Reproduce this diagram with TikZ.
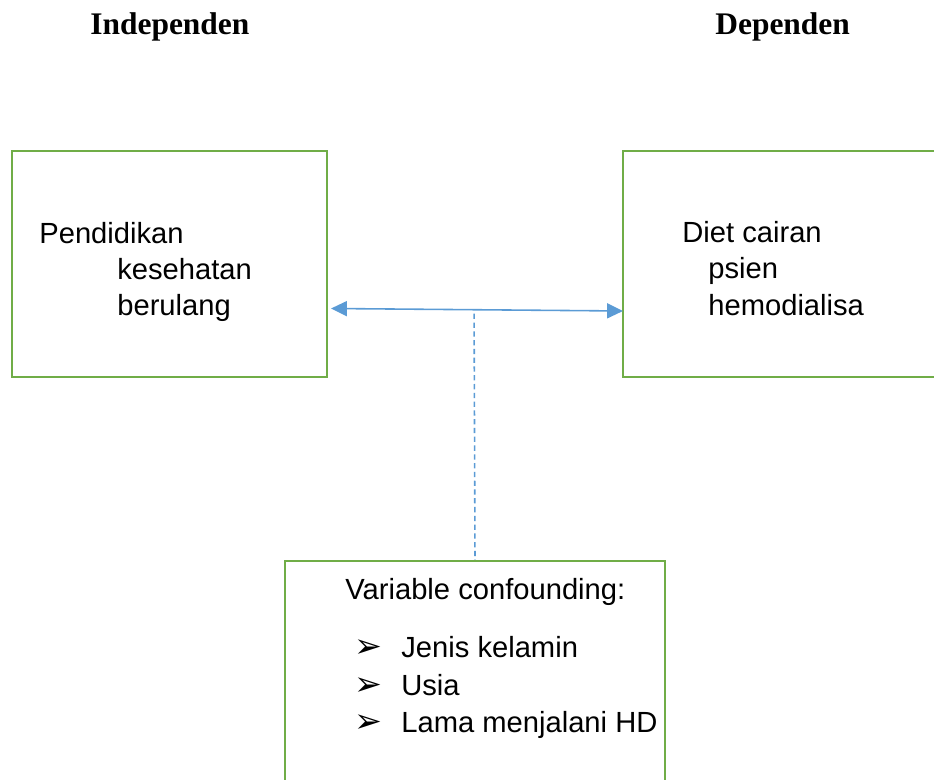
\documentclass[tikz,border=0pt]{standalone}
\usepackage{fontspec}
\setmainfont{Liberation Sans}
\newfontfamily\titlefont{Liberation Serif}
\newfontfamily\symfont{DejaVu Sans}
\usetikzlibrary{arrows.meta,positioning,calc}
\definecolor{boxgreen}{HTML}{70AD47}
\definecolor{linkblue}{HTML}{5B9BD5}

\begin{document}
\begin{tikzpicture}[x=0.02cm,y=-0.02cm,
    varbox/.style={draw=boxgreen, line width=1.2pt, rectangle},
    title/.style={font=\titlefont\bfseries\fontsize{17.9}{20}\selectfont, anchor=base west, inner sep=0pt},
    txt/.style={font=\fontsize{16.6}{20}\selectfont, anchor=base west, inner sep=0pt},
    link/.style={draw=linkblue, line width=0.9pt}]
  \useasboundingbox (0,0) rectangle (934,780);
  \clip (0,0) rectangle (934,780);

  % titles
  \node[title] (tind) at (90,35) {Independen};
  \node[title] (tdep) at (715,35) {Dependen};

  % boxes
  \node[varbox, minimum width=6.3cm, minimum height=4.52cm] (indep) at (169.5,264) {};
  \node[varbox, minimum width=6.54cm, minimum height=4.52cm] (dep) at (786.5,264) {};
  \node[varbox, minimum width=7.6cm, minimum height=4.78cm] (conf) at (475,680.5) {};

  % box texts
  \node[txt] (ind1) at (39,244) {Pendidikan};
  \node[txt] (ind2) at (117,280) {kesehatan};
  \node[txt] (ind3) at (117,316) {berulang};

  \node[txt] (dep1) at (682,243) {Diet cairan};
  \node[txt] (dep2) at (708,279) {psien};
  \node[txt] (dep3) at (708,316) {hemodialisa};

  \node[txt] (conf0) at (345,600) {Variable confounding:};
  \foreach \y/\item [count=\i] in {658/Jenis kelamin, 696/Usia, 732/Lama menjalani HD} {
    \node[txt, font=\symfont\bfseries\fontsize{19}{20}\selectfont] (b\i) at (354,\y) {➢};
    \node[txt] (c\i) at (401,\y) {\item};
  }

  % connectors
  \draw[link, {Triangle[length=9pt,width=8.5pt]}-{Triangle[length=9pt,width=8.5pt]}]
    ($(indep.east)+(3,44.5)$) -- coordinate[pos=0.49] (mid) ($(dep.west)+(1,47)$);
  \draw[link, dashed, dash pattern=on 3pt off 2pt] ($(mid)+(0,4)$) -- (conf.north);
\end{tikzpicture}
\end{document}
